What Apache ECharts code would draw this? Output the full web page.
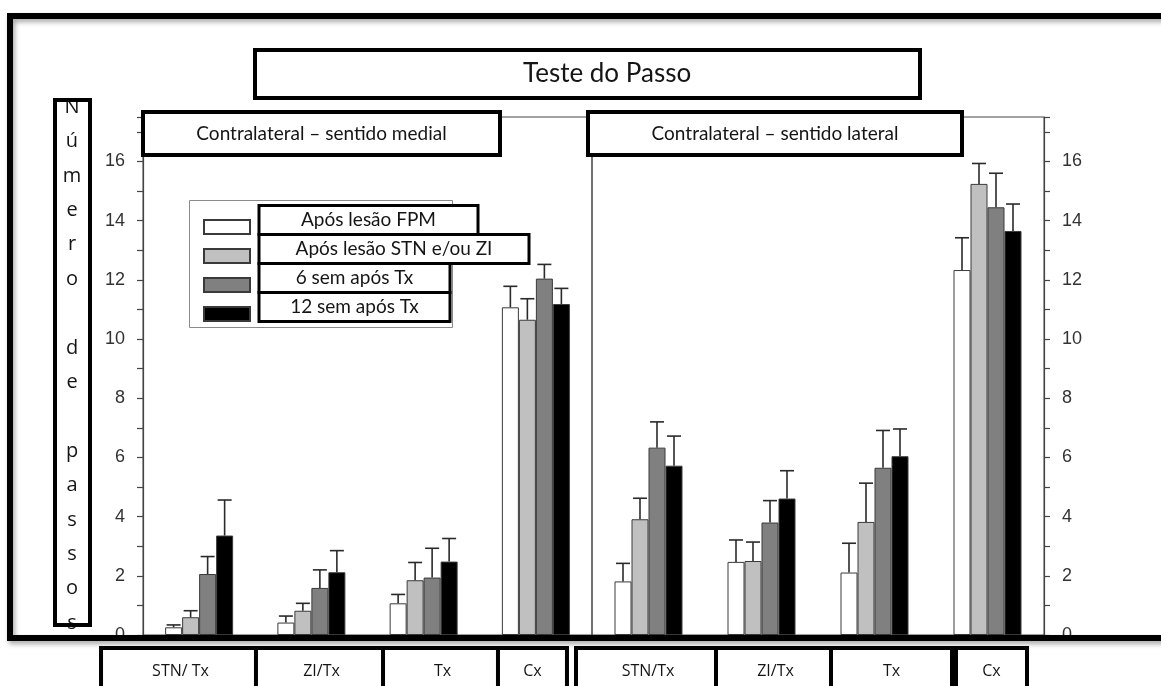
<!DOCTYPE html>
<html>
<head>
<meta charset="utf-8">
<title>Teste do Passo</title>
<script src="https://cdn.jsdelivr.net/npm/echarts@6/dist/echarts.min.js"></script>
<style>
  html, body { margin: 0; padding: 0; background: #fff; }
  #chart { width: 1161px; height: 686px; }
</style>
</head>
<body>
<div id="chart"></div>
<script>
// ---- data -------------------------------------------------------------
const categoriesMedial = ['STN/ Tx', 'ZI/Tx', 'Tx', 'Cx'];
const categoriesLateral = ['STN/Tx', 'ZI/Tx', 'Tx', 'Cx'];
const seriesNames = ['Após lesão FPM', 'Após lesão STN e/ou ZI', '6 sem após Tx', '12 sem após Tx'];

// Contralateral – sentido medial (mean number of steps)
const medialFpm    = [0.26, 0.42, 1.07, 11.07];
const medialStnZi  = [0.60, 0.82, 1.85, 10.65];
const medial6sem   = [2.06, 1.59, 1.94, 12.04];
const medial12sem  = [3.36, 2.12, 2.48, 11.18];
// error (upper whisker length)
const medialFpmErr   = [0.08, 0.22, 0.30, 0.71];
const medialStnZiErr = [0.22, 0.25, 0.60, 0.71];
const medial6semErr  = [0.59, 0.61, 0.99, 0.48];
const medial12semErr = [1.20, 0.73, 0.78, 0.53];

// Contralateral – sentido lateral
const lateralFpm    = [1.81, 2.47, 2.11, 12.33];
const lateralStnZi  = [3.91, 2.50, 3.82, 15.24];
const lateral6sem   = [6.33, 3.80, 5.65, 14.45];
const lateral12sem  = [5.72, 4.61, 6.04, 13.65];
const lateralFpmErr   = [0.61, 0.74, 0.99, 1.09];
const lateralStnZiErr = [0.71, 0.64, 1.31, 0.69];
const lateral6semErr  = [0.87, 0.74, 1.26, 1.15];
const lateral12semErr = [1.00, 0.94, 0.92, 0.91];

const yTickLabels = [0, 2, 4, 6, 8, 10, 12, 14, 16];
const yAxisTitle = ['N', 'ú', 'm', 'e', 'r', 'o', ' ', 'd', 'e', ' ', 'p', 'a', 's', 's', 'o', 's'];

// ---- styling / layout -------------------------------------------------
const BAR_COLORS = ['#ffffff', '#c0c0c0', '#808080', '#000000'];
const BAR_W = 17;
const TEXT_FONT = 'Lato';
const TICK_FONT = 'Liberation Sans';
const INK = '#151515';

// footer cells under each category: box width and shift from category centre
const cellsMedial = [{ w: 155, d: -18.6 }, { w: 127, d: 10.1 }, { w: 115, d: 18.9 }, { w: 65, d: -3.4 }];
const cellsLateral = [{ w: 140, d: -0.5 }, { w: 115, d: 14 }, { w: 117, d: 17 }, { w: 67, d: 4 }];
const legendBoxW = [216, 267, 188, 188];

const panels = [
  { means: [medialFpm, medialStnZi, medial6sem, medial12sem],
    errs: [medialFpmErr, medialStnZiErr, medial6semErr, medial12semErr],
    cats: categoriesMedial, cells: cellsMedial, side: 'left',
    grid: { left: 143, top: 117, width: 449, height: 518 } },
  { means: [lateralFpm, lateralStnZi, lateral6sem, lateral12sem],
    errs: [lateralFpmErr, lateralStnZiErr, lateral6semErr, lateral12semErr],
    cats: categoriesLateral, cells: cellsLateral, side: 'right',
    grid: { left: 592, top: 117, width: 452, height: 518 } }
];

function footerLabel(cells, prefix) {
  const rich = {};
  cells.forEach((c, i) => {
    rich[prefix + 'c' + i] = {
      width: c.w, height: 42, lineHeight: 42, align: 'center', verticalAlign: 'middle',
      borderColor: '#000', borderWidth: 4, backgroundColor: '#fff',
      fontFamily: 'Open Sans', fontSize: 16, color: INK
    };
    rich[prefix + 's' + i] = { width: Math.abs(2 * c.d), height: 10 };
  });
  return {
    interval: 0, margin: 15, rich: rich,
    formatter: (value, idx) => {
      const c = cells[idx];
      const box = `{${prefix}c${idx}|${value}}`;
      const sp = `{${prefix}s${idx}| }`;
      if (Math.abs(c.d) < 0.01) return box;
      return c.d < 0 ? box + sp : sp + box;
    }
  };
}

function errorRenderer(j) {
  return function (params, api) {
    const ci = api.value(0), mean = api.value(1), err = api.value(2);
    const base = api.coord([ci, mean]);
    const top = api.coord([ci, mean + err]);
    const x = base[0] + (j - 1.5) * BAR_W;
    const st = { stroke: '#2a2a2a', lineWidth: 1.6 };
    return {
      type: 'group',
      children: [
        { type: 'line', shape: { x1: x, y1: base[1], x2: x, y2: top[1] }, style: st },
        { type: 'line', shape: { x1: x - 7, y1: top[1], x2: x + 7, y2: top[1] }, style: st }
      ]
    };
  };
}

const grids = [], xAxes = [], yAxes = [], series = [];
panels.forEach((p, g) => {
  grids.push(Object.assign({
    show: true, borderColor: '#444', borderWidth: 1, backgroundColor: 'transparent',
    outerBoundsMode: 'none', containLabel: false
  }, p.grid));
  xAxes.push({
    type: 'category', gridIndex: g, data: p.cats,
    axisLine: { show: false }, axisTick: { show: false },
    axisLabel: footerLabel(p.cells, 'p' + g)
  });
  const yAxis = {
    type: 'value', gridIndex: g, position: p.side, min: 0, max: 17.5, interval: 1,
    splitLine: { show: false },
    axisLine: { show: true, lineStyle: { color: '#444', width: 1.2 } },
    axisTick: { show: true, length: 6, lineStyle: { color: '#444', width: 1.2 } },
    axisLabel: {
      margin: 18, color: '#333', fontFamily: TICK_FONT, fontSize: 18,
      formatter: v => (yTickLabels.indexOf(v) >= 0 ? String(v) : '')
    }
  };
  if (g === 0) {
    yAxis.name = yAxisTitle.map(ch => `{v|${ch}}`).join('\n');
    yAxis.nameLocation = 'middle';
    yAxis.nameRotate = 0;
    yAxis.nameGap = 71;
    yAxis.nameTextStyle = {
      align: 'center', verticalAlign: 'middle', padding: [0, 0, 22, 0],
      rich: { v: { width: 30, height: 34.4, lineHeight: 34.4, align: 'center',
                   fontFamily: 'Open Sans', fontSize: 20, color: INK } }
    };
  }
  yAxes.push(yAxis);
  p.means.forEach((vals, j) => {
    series.push({
      type: 'bar', name: seriesNames[j], xAxisIndex: g, yAxisIndex: g,
      data: vals, barWidth: BAR_W, barGap: '0%',
      itemStyle: { color: BAR_COLORS[j], borderColor: '#3a3a3a', borderWidth: 1 }
    });
  });
  p.means.forEach((vals, j) => {
    series.push({
      type: 'custom', xAxisIndex: g, yAxisIndex: g, silent: true, z: 3,
      data: vals.map((m, i) => [i, m, p.errs[j][i]]),
      renderItem: errorRenderer(j)
    });
  });
});

const legendRich = { sp: { width: 5.5, height: 10 }, pad: { height: 14, lineHeight: 14, fontSize: 10 } };
legendBoxW.forEach((w, i) => {
  legendRich['b' + i] = {
    width: w, height: 26, lineHeight: 26, align: 'center', verticalAlign: 'middle',
    borderColor: '#000', borderWidth: 3, backgroundColor: '#fff',
    fontFamily: TEXT_FONT, fontSize: 19, color: INK
  };
});

const boxText = (size, w, h, extra) => Object.assign({
  width: w, height: h, lineHeight: h, verticalAlign: 'middle',
  borderColor: '#000', borderWidth: 4, backgroundColor: '#fff',
  fontFamily: TEXT_FONT, fontSize: size, fontWeight: 'normal', color: INK
}, extra || {});

const option = {
  animation: false,
  backgroundColor: '#fff',
  title: [
    { left: 257, top: 52, padding: 0, text: '{t|Teste do Passo}',
      textStyle: { fontWeight: 'normal', rich: { t: boxText(26, 395, 44, { padding: [0, 0, 0, 266] }) } } },
    { left: 145, top: 114, padding: 0, text: '{m|Contralateral – sentido medial}',
      textStyle: { fontWeight: 'normal', rich: { m: boxText(19, 353, 39, { align: 'center' }) } } },
    { left: 590, top: 114, padding: 0, text: '{l|Contralateral – sentido lateral}',
      textStyle: { fontWeight: 'normal', rich: { l: boxText(19, 370, 39, { align: 'center' }) } } }
  ],
  legend: {
    data: seriesNames, orient: 'vertical', left: 203, top: 204, padding: 0,
    itemWidth: 46, itemHeight: 14, itemGap: -14, icon: 'rect', selectedMode: false,
    formatter: name => `{sp| }{b${seriesNames.indexOf(name)}|${name}}\n{pad| }`,
    textStyle: { rich: legendRich }
  },
  grid: grids,
  xAxis: xAxes,
  yAxis: yAxes,
  series: series,
  graphic: [
    // outer frame, open to the right
    { type: 'rect', z: 100, silent: true,
      shape: { x: 10, y: 16, width: 1400, height: 622 },
      style: { fill: 'none', stroke: '#000', lineWidth: 6,
               shadowColor: 'rgba(0,0,0,0.35)', shadowBlur: 5, shadowOffsetX: 2, shadowOffsetY: 3 } },
    // box round the vertical axis title
    { type: 'rect', z: 100, silent: true,
      shape: { x: 55, y: 100, width: 35, height: 525 },
      style: { fill: 'none', stroke: '#000', lineWidth: 4 } },
    // thin frame behind the legend
    { type: 'rect', z: 1, silent: true,
      shape: { x: 189.5, y: 200.5, width: 263, height: 127 },
      style: { fill: '#fff', stroke: '#8a8a8a', lineWidth: 1 } }
  ]
};

const chart = echarts.init(document.getElementById('chart'), null, { renderer: 'canvas' });
chart.setOption(option);
</script>
</body>
</html>
